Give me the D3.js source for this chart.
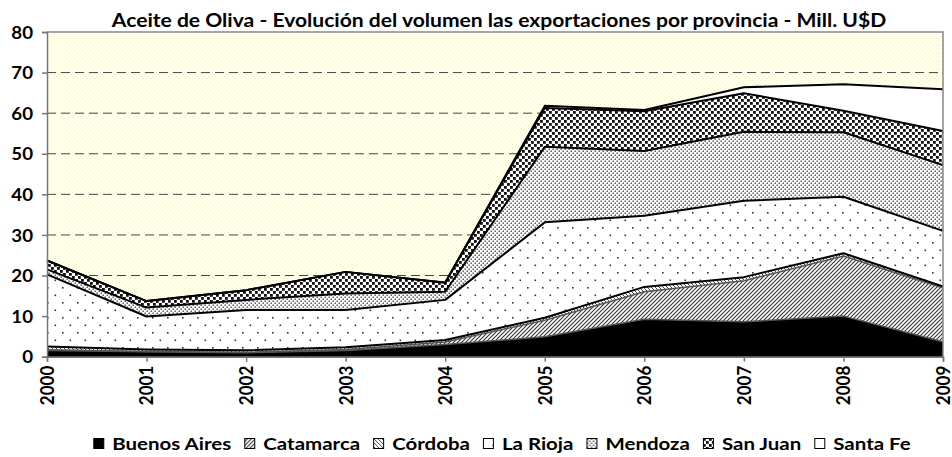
<!DOCTYPE html>
<html>
<head>
<meta charset="utf-8">
<script src="https://cdn.jsdelivr.net/npm/d3@7"></script>
<style>
  body { margin: 0; background: #fff; }
  text { font-family: Lato, "Open Sans", sans-serif; font-weight: bold; fill: #000; }
</style>
</head>
<body>
<div id="chart"></div>
<script>
// valores (Mill. U$D por provincia)
var years = [2000, 2001, 2002, 2003, 2004, 2005, 2006, 2007, 2008, 2009];
var buenosAires = [1.5, 1.2, 1.0, 1.5, 3.0, 4.9, 9.2, 8.6, 10.0, 3.7];
var catamarca   = [0.2, 0.1, 0.1, 0.3, 0.6, 4.1, 6.8, 10.1, 14.8, 13.2];
var cordoba     = [0.8, 0.5, 0.5, 0.5, 0.5, 0.6, 1.2, 0.9, 0.7, 0.4];
var laRioja     = [17.8, 8.1, 9.9, 9.2, 9.9, 23.5, 17.5, 18.8, 13.9, 13.7];
var mendoza     = [1.2, 2.2, 2.5, 4.1, 2.0, 18.6, 16.0, 17.0, 15.9, 16.2];
var sanJuan     = [2.2, 1.6, 2.4, 5.3, 2.2, 9.6, 9.8, 9.5, 5.3, 8.4];
var santaFe     = [0, 0, 0, 0, 0.1, 0.5, 0.3, 1.5, 6.5, 10.3];
var provincias = ["Buenos Aires", "Catamarca", "Córdoba", "La Rioja", "Mendoza", "San Juan", "Santa Fe"];
var yTicks = [0, 10, 20, 30, 40, 50, 60, 70, 80];
var titulo = "Aceite de Oliva  - Evolución del volumen las exportaciones por provincia - Mill. U$D";

var series = [buenosAires, catamarca, cordoba, laRioja, mendoza, sanJuan, santaFe];
var rows = years.map(function(y, i) {
  var r = {year: y};
  provincias.forEach(function(p, k) { r[p] = series[k][i]; });
  return r;
});

var W = 952, H = 457;
var pLeft = 47, pRight = 943, pTop = 32, pBottom = 356.7;

var svg = d3.select("#chart").append("svg")
  .attr("width", W).attr("height", H);

var defs = svg.append("defs");

// tramas
function pat(id, w, h) {
  var p = defs.append("pattern").attr("id", id)
    .attr("patternUnits", "userSpaceOnUse").attr("width", w).attr("height", h);
  p.append("rect").attr("width", w).attr("height", h).attr("fill", "#fff");
  return p;
}
var bg = pat("bg", 4, 4);
bg.append("rect").attr("x", 0).attr("y", 0).attr("width", 1).attr("height", 1).attr("fill", "#f2f2c0");
bg.append("rect").attr("x", 2).attr("y", 2).attr("width", 1).attr("height", 1).attr("fill", "#f2f2c0");

var pCat = pat("pCat", 4, 4);
pCat.append("path").attr("d", "M-1,1 l2,-2 M0,4 l4,-4 M3,5 l2,-2")
  .attr("stroke", "#333").attr("stroke-width", 1.1);

var pCor = pat("pCor", 4, 4);
pCor.append("path").attr("d", "M-1,3 l2,2 M0,0 l4,4 M3,-1 l2,2")
  .attr("stroke", "#444").attr("stroke-width", 1);

var pRio = pat("pRio", 15, 15);
pRio.append("rect").attr("x", 2).attr("y", 2).attr("width", 1.6).attr("height", 1.6).attr("fill", "#333");
pRio.append("rect").attr("x", 9.5).attr("y", 9.5).attr("width", 1.6).attr("height", 1.6).attr("fill", "#333");

var pMen = pat("pMen", 4, 4);
pMen.append("rect").attr("x", 0.5).attr("y", 0.5).attr("width", 1.4).attr("height", 1.4).attr("fill", "#444");
pMen.append("rect").attr("x", 2.5).attr("y", 2.5).attr("width", 1.4).attr("height", 1.4).attr("fill", "#444");

var pSJ = pat("pSJ", 6, 6);
pSJ.append("rect").attr("x", 0).attr("y", 0).attr("width", 2.8).attr("height", 2.8).attr("fill", "#111");
pSJ.append("rect").attr("x", 3).attr("y", 3).attr("width", 2.8).attr("height", 2.8).attr("fill", "#111");

var fills = ["#000", "url(#pCat)", "url(#pCor)", "url(#pRio)", "url(#pMen)", "url(#pSJ)", "#fff"];
var lineColor = ["#555", "#555", "#000", "#000", "#000", "#000", "#000"];

var x = d3.scaleLinear().domain([2000, 2009]).range([pLeft, pRight]);
var y = d3.scaleLinear().domain([0, 80]).range([pBottom, pTop]);

// fondo
svg.append("rect").attr("x", pLeft).attr("y", pTop)
  .attr("width", pRight - pLeft).attr("height", pBottom - pTop)
  .attr("fill", "url(#bg)");

// grilla
svg.append("g").selectAll("line")
  .data(yTicks.filter(function(d) { return d > 0 && d < 80; }))
  .enter().append("line")
  .attr("x1", pLeft).attr("x2", pRight)
  .attr("y1", function(d) { return y(d); }).attr("y2", function(d) { return y(d); })
  .attr("stroke", "#444").attr("stroke-width", 1).attr("stroke-dasharray", "9,5");

var stacked = d3.stack().keys(provincias)(rows);

var area = d3.area()
  .x(function(d) { return x(d.data.year); })
  .y0(function(d) { return y(d[0]); })
  .y1(function(d) { return y(d[1]); });

var line = d3.line()
  .x(function(d) { return x(d.data.year); })
  .y(function(d) { return y(d[1]); });

svg.append("g").selectAll("path")
  .data(stacked).enter().append("path")
  .attr("d", area)
  .attr("fill", function(d, i) { return fills[i]; });

svg.append("g").selectAll("path")
  .data(stacked).enter().append("path")
  .attr("d", line)
  .attr("fill", "none")
  .attr("stroke", function(d, i) { return lineColor[i]; })
  .attr("stroke-width", function(d, i) { return i < 2 ? 1.5 : 2; })
  .attr("stroke-linejoin", "round");

// borde
svg.append("path")
  .attr("d", "M" + pLeft + "," + pTop + "H" + pRight + "V" + pBottom)
  .attr("fill", "none").attr("stroke", "#888").attr("stroke-width", 1.5);

// ejes
var yAxis = svg.append("g").attr("transform", "translate(" + pLeft + ",0)")
  .call(d3.axisLeft(y).tickValues(yTicks).tickSize(5).tickPadding(5));
yAxis.selectAll("text")
  .style("font-size", "17px")
  .attr("x", 0).attr("dy", ".36em")
  .attr("transform", "translate(-14,0) scale(1.1,1)");

var xAxis = svg.append("g").attr("transform", "translate(0," + pBottom + ")")
  .call(d3.axisBottom(x).tickValues(years).tickFormat(d3.format("d")).tickSize(5));
xAxis.selectAll("text")
  .style("font-size", "17px")
  .attr("transform", "rotate(-90) scale(1,1.08)")
  .attr("text-anchor", "end")
  .attr("x", -9).attr("y", 0).attr("dy", ".35em");

svg.selectAll(".domain, .tick line").attr("stroke", "#777").attr("stroke-width", 1.5);
svg.selectAll(".tick text").attr("fill", "#000");

// titulo
svg.append("text")
  .attr("transform", "translate(499,27) scale(1.14,1)")
  .attr("text-anchor", "middle").style("font-size", "18.5px")
  .text(titulo);

// leyenda
var sx = 1.17;
var leg = svg.append("g");
var lx = 0;
provincias.forEach(function(p, i) {
  var g = leg.append("g").attr("transform", "translate(" + lx + ",0)");
  g.append("rect").attr("x", 0.5).attr("y", -11.5).attr("width", 10).attr("height", 10)
    .attr("fill", fills[i]).attr("stroke", "#000").attr("stroke-width", 1);
  var t = g.append("text").attr("transform", "translate(19,0) scale(" + sx + ",1)")
    .style("font-size", "17.5px").text(p);
  lx += 19 + t.node().getComputedTextLength() * sx + 13;
});
lx -= 13;
leg.attr("transform", "translate(" + (502 - lx / 2) + ",450)");
</script>
</body>
</html>
